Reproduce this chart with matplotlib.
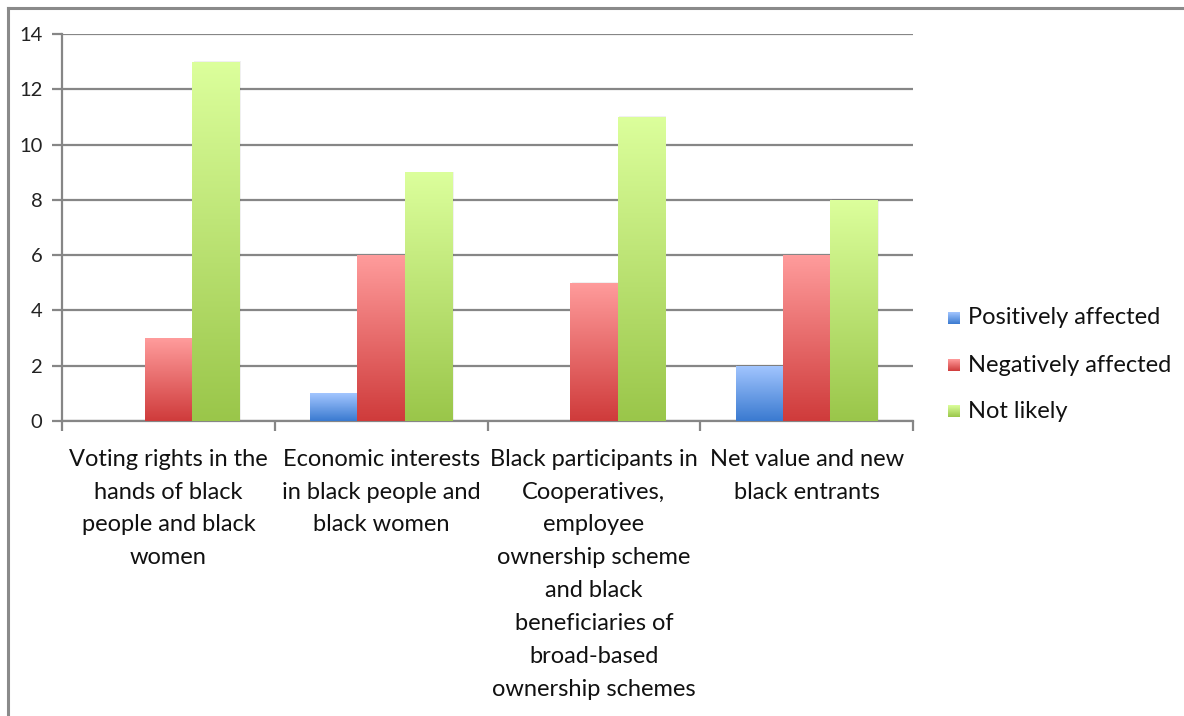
import numpy as np
import matplotlib
matplotlib.use("Agg")
import matplotlib.pyplot as plt
from matplotlib.patches import Rectangle
from matplotlib.colors import LinearSegmentedColormap
from matplotlib.lines import Line2D

plt.rcParams['font.family'] = ['Lato', 'DejaVu Sans']

categories = [
    "Voting rights in the\nhands of black\npeople and black\nwomen",
    "Economic interests\nin black people and\nblack women",
    "Black participants in\nCooperatives,\nemployee\nownership scheme\nand black\nbeneficiaries of\nbroad-based\nownership schemes",
    "Net value and new\nblack entrants",
]
series_names = ["Positively affected", "Negatively affected", "Not likely"]
positively = [0, 1, 0, 2]
negatively = [3, 6, 5, 6]
not_likely = [13, 9, 11, 8]
y_ticks = [0, 2, 4, 6, 8, 10, 12, 14]

series_values = [positively, negatively, not_likely]
# (top colour, bottom colour) of each series' vertical gradient
gradients = [("#A3C6FF", "#3A7AD0"), ("#FF9C9C", "#CF3B3B"), ("#DCFF9C", "#9AC64A")]

W, H = 1184, 716
fig = plt.figure(figsize=(W / 100, H / 100), dpi=100)
fig.patch.set_facecolor("white")

# outer chart frame (top and left edges)
fig.add_artist(Line2D([8 / W, 8 / W], [0, 1 - 8 / H], color="#8a8a8a", lw=2.2))
fig.add_artist(Line2D([8 / W, 1], [1 - 8 / H, 1 - 8 / H], color="#8a8a8a", lw=2.2))

ax_left, ax_right = 62 / W, 913 / W
ax_bottom, ax_top = (H - 421) / H, (H - 34) / H
ax = fig.add_axes([ax_left, ax_bottom, ax_right - ax_left, ax_top - ax_bottom])

n_cat = len(categories)
ax.set_xlim(0, n_cat)
ax.set_ylim(0, 14)

bar_w = 1 / 4.5
offsets = [-bar_w, 0, bar_w]

grad = np.linspace(0, 1, 256).reshape(-1, 1)
cmaps = [LinearSegmentedColormap.from_list(f"g{s}", [g[1], g[0]])
         for s, g in enumerate(gradients)]
for s, vals in enumerate(series_values):
    for i, v in enumerate(vals):
        if v <= 0:
            continue
        xc = i + 0.5 + offsets[s]
        x0 = xc - bar_w / 2
        # soft drop shadow on the right side
        shadow = Rectangle((x0 + 0.007, 0), bar_w, v + 0.02, facecolor="#000000",
                           alpha=0.06, edgecolor="none", zorder=2)
        ax.add_patch(shadow)
        rect = Rectangle((x0, 0), bar_w, v, facecolor="none", edgecolor="none", zorder=3)
        ax.add_patch(rect)
        im = ax.imshow(grad, extent=[x0, x0 + bar_w, 0, v], origin="lower",
                       cmap=cmaps[s], aspect="auto", zorder=3, interpolation="bilinear")
        im.set_clip_path(rect)

ax.set_xlim(0, n_cat)
ax.set_ylim(0, 14)

# gridlines
for t in y_ticks:
    ax.axhline(t, color="#868686", lw=1.6, zorder=1)

for sp in ["top", "right"]:
    ax.spines[sp].set_visible(False)
ax.spines["left"].set_color("#868686")
ax.spines["left"].set_linewidth(1.6)
ax.spines["bottom"].set_color("#868686")
ax.spines["bottom"].set_linewidth(1.6)

ax.set_yticks(y_ticks)
ax.set_yticklabels([str(t) for t in y_ticks], fontsize=14.5, color="#222222")
ax.tick_params(axis="y", length=7, width=1.6, color="#868686", pad=7)

ax.set_xticks(range(n_cat + 1))
ax.set_xticklabels([])
ax.tick_params(axis="x", length=7, width=1.6, color="#868686")

for i, lab in enumerate(categories):
    ax.text(i + 0.5, -1.0, lab, ha="center", va="top", fontsize=17,
            color="#111111", linespacing=1.7, transform=ax.transData,
            clip_on=False)

# legend with small gradient swatches
legend_y = [318, 365, 411]
for name, cm, yp in zip(series_names, cmaps, legend_y):
    sw_ax = fig.add_axes([948 / W, (H - yp - 6) / H, 12 / W, 12 / H])
    sw_ax.imshow(grad, origin="lower", cmap=cm, aspect="auto",
                 extent=[0, 1, 0, 1], interpolation="bilinear")
    sw_ax.set_axis_off()
    fig.text(968 / W, (H - yp) / H, name, ha="left", va="center",
             fontsize=17, color="#111111")

fig.savefig("out.png", dpi=100, facecolor="white")
